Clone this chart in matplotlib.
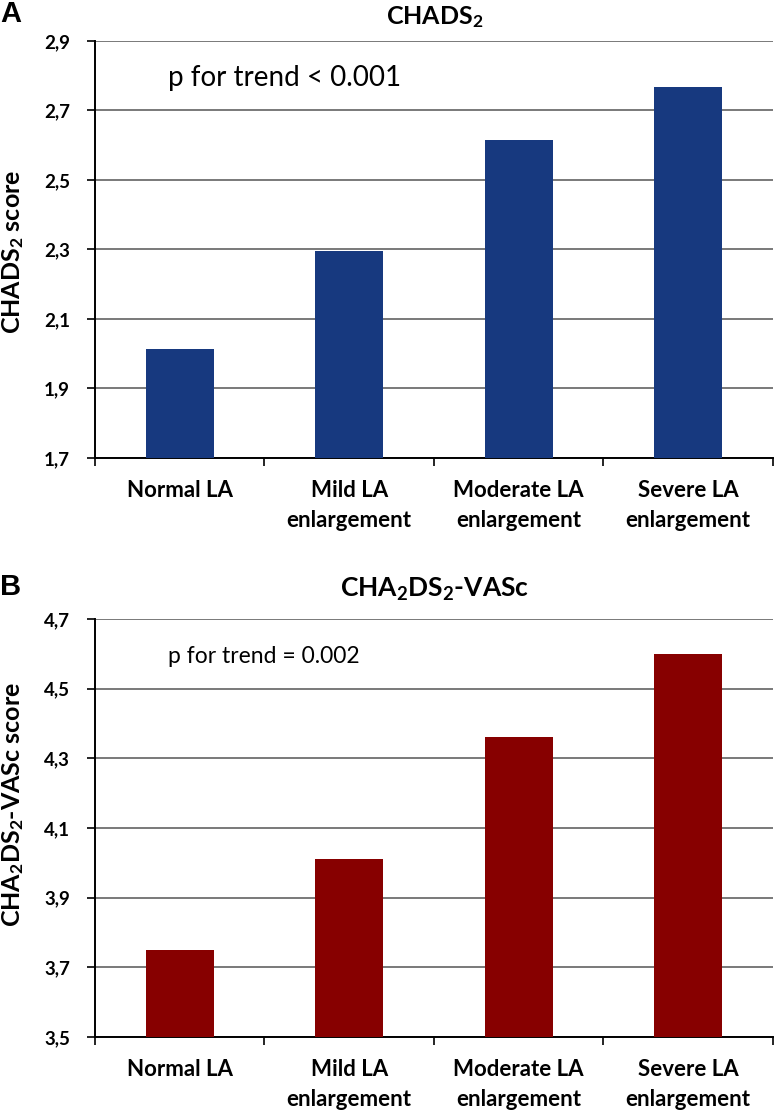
import matplotlib
matplotlib.use("Agg")
from matplotlib import pyplot as plt

CATEGORIES = ["Normal LA", "Mild LA\nenlargement", "Moderate LA\nenlargement", "Severe LA\nenlargement"]
CHADS2 = [2.015, 2.295, 2.616, 2.767]
CHA2DS2_VASC = [3.750, 4.010, 4.362, 4.600]
CHADS2_TICKS = [1.7, 1.9, 2.1, 2.3, 2.5, 2.7, 2.9]
VASC_TICKS = [3.5, 3.7, 3.9, 4.1, 4.3, 4.5, 4.7]

plt.rcParams["font.family"] = ["Lato", "DejaVu Sans"]
plt.rcParams["mathtext.default"] = "regular"


def panel(fig, rect, values, ticks, color, title, tsize, ylabel, label_y, ptext, psize,
          letter, title_y):
    ax = fig.add_axes(rect)
    x = range(len(values))
    ax.bar(x, [v - ticks[0] for v in values], bottom=ticks[0], width=0.4, color=color, zorder=3)
    ax.set_ylim(ticks[0], ticks[-1])
    ax.set_xlim(-0.5, len(values) - 0.5)
    ax.set_yticks(ticks)
    ax.set_yticklabels([("%.1f" % t).replace(".", ",") for t in ticks], fontsize=13.5, fontweight="bold")
    ax.set_xticks(list(x))
    ax.set_xticklabels(CATEGORIES, fontsize=16, fontweight="bold", linespacing=1.5)
    ax.set_xticks([i - 0.5 for i in range(len(values) + 1)], minor=True)
    ax.tick_params(axis="x", which="major", length=0, pad=16)
    ax.tick_params(axis="x", which="minor", length=6, width=1.2, direction="out")
    ax.tick_params(axis="y", length=6, width=1.2, direction="out", pad=12)
    ax.grid(axis="y", color="#6e6e6e", linewidth=1.3, zorder=0)
    for s in ["top", "right"]:
        ax.spines[s].set_visible(False)
    ax.spines["left"].set_linewidth(1.4)
    ax.spines["bottom"].set_linewidth(1.4)
    ax.set_ylabel(ylabel, fontsize=18, fontweight="bold", va="center")
    ax.yaxis.set_label_coords(-0.121, label_y)
    ax.text(0.107, 0.91, ptext, transform=ax.transAxes, fontsize=psize, va="center", ha="left")
    fig.text(0.561, title_y, title, fontsize=tsize, fontweight="bold", ha="center", va="center")
    fig.text(0.0, title_y + 0.002, letter, fontsize=21, fontweight="bold", ha="left", va="center",
             family="Liberation Sans")
    return ax


def main():
    fig = plt.figure(figsize=(7.74, 11.13), dpi=100)
    panel(fig, [0.1227, 0.5885, 0.876, 0.3747], CHADS2, CHADS2_TICKS, "#17397f",
          "CHADS$_2$", 18, "CHADS$_2$ score", 0.494, "p for trend < 0.001", 20, "A", 0.985)
    panel(fig, [0.1227, 0.0683, 0.876, 0.3755], CHA2DS2_VASC, VASC_TICKS, "#870000",
          "CHA$_2$DS$_2$-VASc", 19, "CHA$_2$DS$_2$-VASc score", 0.557, "p for trend = 0.002", 16.5,
          "B", 0.4705)
    fig.savefig("out.png", dpi=100)


if __name__ == '__main__':
    main()
